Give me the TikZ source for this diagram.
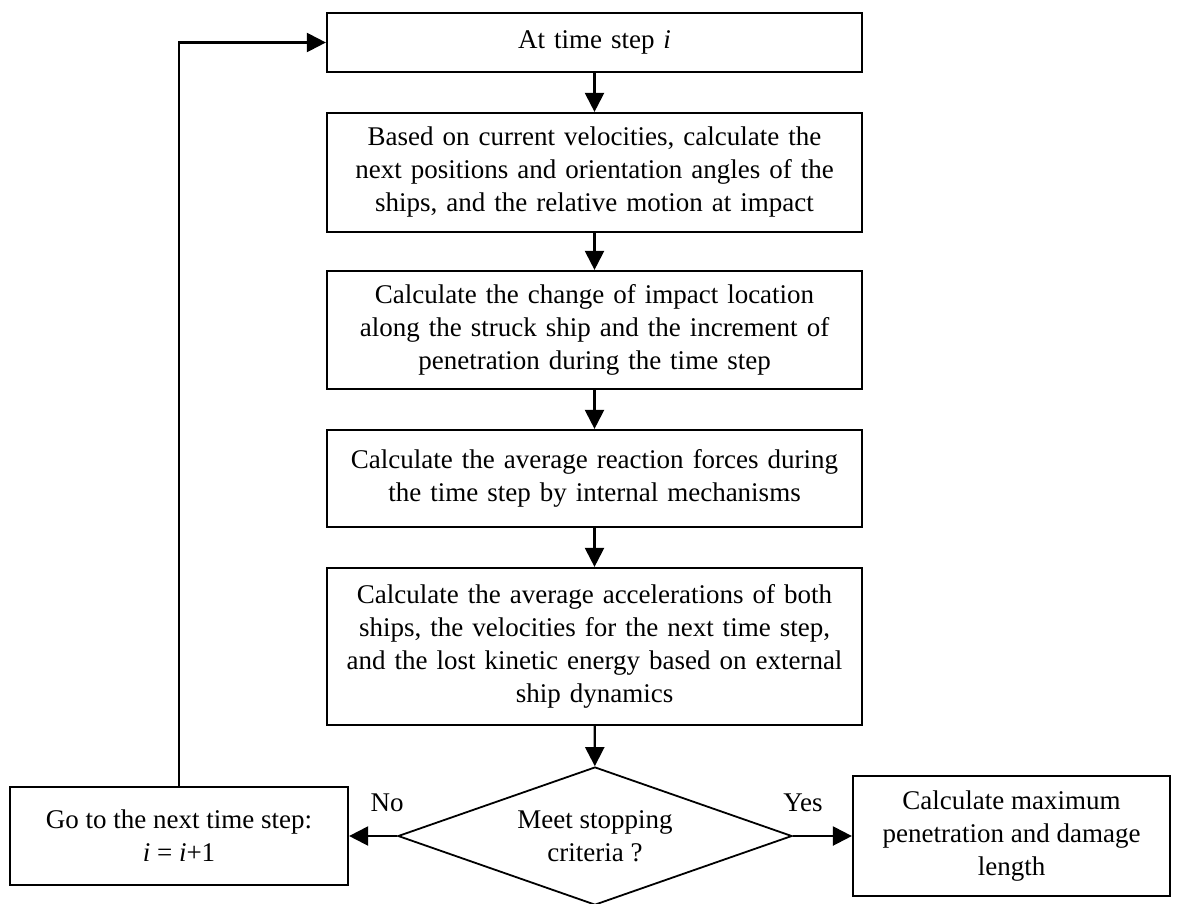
\documentclass[tikz,border=0pt]{standalone}
\usepackage{fontspec}
\setmainfont{Liberation Serif}
\usetikzlibrary{shapes.geometric,arrows.meta}
\begin{document}
\begin{tikzpicture}[x=1pt,y=-1pt,
  every node/.style={font=\fontsize{27}{33}\selectfont},
  procbox/.style={draw, line width=2.2pt, minimum width=535pt, text width=530pt, align=center, inner sep=0pt},
  sidebox/.style={draw, line width=2.2pt, align=center, inner sep=0pt},
  decision/.style={draw, diamond, line width=1.8pt, aspect=2.855, minimum width=394pt, minimum height=138pt, inner sep=0pt, align=center},
  flow/.style={line width=2.2pt, -{Triangle[length=19pt,width=19pt]}},
  lbl/.style={inner sep=0pt}]
\useasboundingbox (0,0) rectangle (1182,903);
\node[procbox, minimum height=59pt] (b1) at (594.5,42.5) {At time step \textit{i}};
\node[procbox, minimum height=119pt] (b2) at (594.5,172.5) {Based on current velocities, calculate the\\next positions and orientation angles of the\\ships, and the relative motion at impact};
\node[procbox, minimum height=118pt] (b3) at (594.5,330) {Calculate the change of impact location\\along the struck ship and the increment of\\penetration during the time step};
\node[procbox, minimum height=97pt] (b4) at (594.5,478.5) {Calculate the average reaction forces during\\the time step by internal mechanisms};
\node[procbox, minimum height=157pt] (b5) at (594.5,646.5) {Calculate the average accelerations of both\\ships, the velocities for the next time step,\\and the lost kinetic energy based on external\\ship dynamics};
\node[decision] (d) at (595,836) {Meet stopping\\criteria ?};
\node[sidebox, minimum width=338pt, minimum height=98pt] (lb) at (179,836) {Go to the next time step:\\\textit{i} = \textit{i}+1};
\node[sidebox, minimum width=317pt, minimum height=120pt] (rb) at (1011.5,836) {Calculate maximum\\penetration and damage\\length};
\draw[flow] (b1) -- (b2);
\draw[flow] (b2) -- (b3);
\draw[flow] (b3) -- (b4);
\draw[flow] (b4) -- (b5);
\draw[flow] (b5) -- (d);
\draw[flow] (d.west) -- (lb.east);
\draw[flow] (d.east) -- (rb.west);
\draw[flow] (lb.north) |- (b1.west);
\node[lbl] (no) at (387,803) {No};
\node[lbl] (yes) at (803,803) {Yes};
\end{tikzpicture}
\end{document}
